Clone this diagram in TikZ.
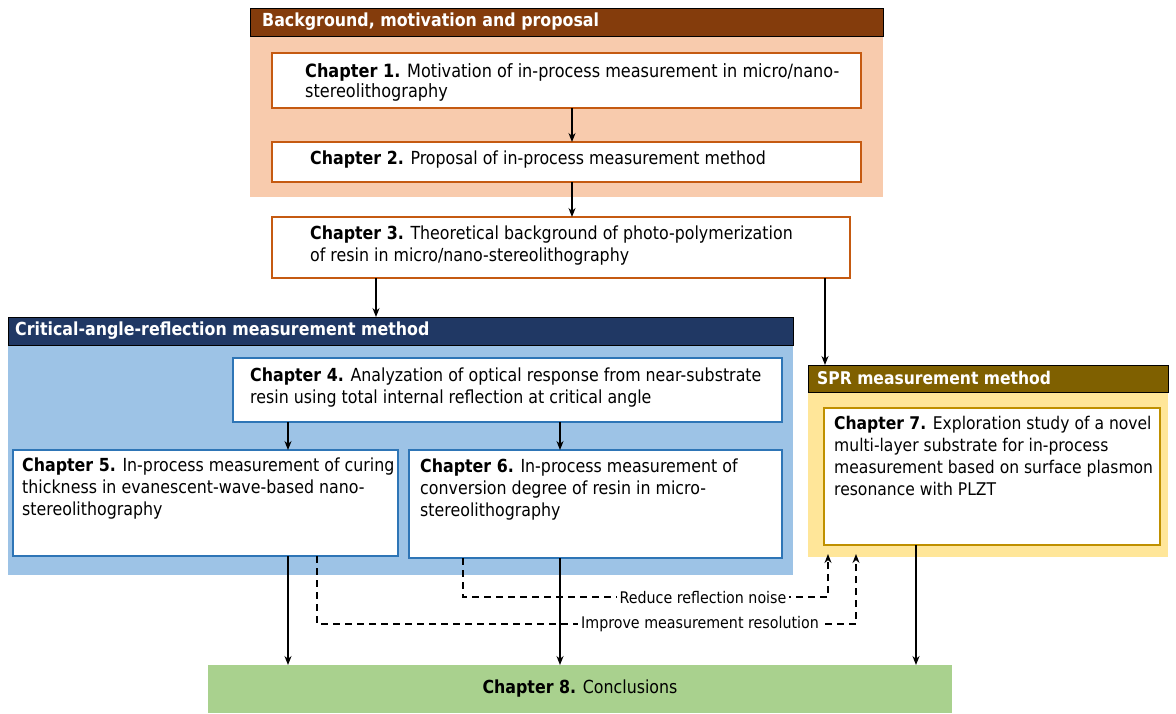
\documentclass[tikz,border=0pt]{standalone}
\usepackage{fontspec}
\setmainfont{DejaVu Sans}[FakeStretch=0.88]
\newfontfamily\wide{DejaVu Sans}[FakeStretch=0.89]
\newfontfamily\lblf{DejaVu Sans}[FakeStretch=0.89]
\usetikzlibrary{arrows.meta}
\definecolor{hbrown}{HTML}{843C0C}
\definecolor{peach}{HTML}{F8CBAD}
\definecolor{orangeb}{HTML}{C55A11}
\definecolor{navy}{HTML}{203864}
\definecolor{lblue}{HTML}{9DC3E6}
\definecolor{blueb}{HTML}{2E75B6}
\definecolor{olive}{HTML}{7F6000}
\definecolor{lyellow}{HTML}{FFE699}
\definecolor{goldb}{HTML}{BF9000}
\definecolor{lgreen}{HTML}{A9D18E}
\tikzset{
  rect/.style={anchor=north west, inner sep=0pt, outer sep=0pt},
  hdr/.style={rect, draw=black, line width=0.8pt},
  panel/.style={rect},
  chbox/.style={rect, fill=white, line width=2pt},
  txt/.style={anchor=north west, inner sep=0pt, align=left, font=\fontsize{18}{22}\selectfont},
  htxt/.style={anchor=west, inner sep=0pt, text=white, font=\bfseries\fontsize{18}{20}\selectfont},
  arr/.style={line width=1.4pt, -{Stealth[length=9pt,width=7pt]}},
  darr/.style={line width=1.4pt, dash pattern=on 7pt off 5pt, -{Stealth[length=9pt,width=7pt]}},
  lbl/.style={fill=white, inner sep=3pt, font=\lblf\fontsize{16}{18}\selectfont}
}
\begin{document}
\begin{tikzpicture}[x=1pt,y=-1pt]
\useasboundingbox (0,0) rectangle (1176,713);
% Background panel
\node[panel, fill=peach, minimum width=633, minimum height=161] (bgpanel) at (250,36) {};
\node[hdr, fill=hbrown, minimum width=633, minimum height=28] (bghdr) at (250,8) {};
\node[htxt] at (262,22) {Background, motivation and proposal};
% Critical-angle panel
\node[panel, fill=lblue, minimum width=785, minimum height=230] (cpanel) at (8,345) {};
\node[hdr, fill=navy, minimum width=785, minimum height=28] (chdr) at (8,317) {};
\node[htxt] at (15,331) {Critical-angle-reflection measurement method};
% SPR panel
\node[panel, fill=lyellow, minimum width=360, minimum height=165] (spanel) at (808,392) {};
\node[hdr, fill=olive, minimum width=360, minimum height=27] (shdr) at (808,365) {};
\node[htxt, font=\wide\bfseries\fontsize{17.5}{20}\selectfont] at (817,378) {SPR measurement method};
% Chapter boxes
\node[chbox, draw=orangeb, minimum width=589, minimum height=55] (c1) at (272,53) {};
\node[txt, font=\fontsize{18.3}{20}\selectfont] at (305,63) {\textbf{Chapter 1.} Motivation of in-process measurement in micro/nano-\\stereolithography};
\node[chbox, draw=orangeb, minimum width=589, minimum height=40] (c2) at (272,142) {};
\node[txt] at (310,151) {\textbf{Chapter 2.} Proposal of in-process measurement method};
\node[chbox, draw=orangeb, minimum width=578, minimum height=61] (c3) at (272,217) {};
\node[txt] at (310,226) {\textbf{Chapter 3.} Theoretical background of photo-polymerization\\of resin in micro/nano-stereolithography};
\node[chbox, draw=blueb, minimum width=549, minimum height=64] (c4) at (233,358) {};
\node[txt] at (250,368) {\textbf{Chapter 4.} Analyzation of optical response from near-substrate\\resin using total internal reflection at critical angle};
\node[chbox, draw=blueb, minimum width=385, minimum height=106] (c5) at (13,450) {};
\node[txt] at (22,458) {\textbf{Chapter 5.} In-process measurement of curing\\thickness in evanescent-wave-based nano-\\stereolithography};
\node[chbox, draw=blueb, minimum width=373, minimum height=108] (c6) at (409,450) {};
\node[txt] at (420,459) {\textbf{Chapter 6.} In-process measurement of\\conversion degree of resin in micro-\\stereolithography};
\node[chbox, draw=goldb, minimum width=336, minimum height=137] (c7) at (824,408) {};
\node[txt, font=\wide\fontsize{17.5}{22}\selectfont] at (834,416) {\textbf{Chapter 7.} Exploration study of a novel\\multi-layer substrate for in-process\\measurement based on surface plasmon\\resonance with PLZT};
\node[rect, fill=lgreen, minimum width=744, minimum height=48] (c8) at (208,665) {};
\node[inner sep=0pt, font=\fontsize{18}{20}\selectfont] at (c8.center) {\textbf{Chapter 8.} Conclusions};
% Solid arrows
\draw[arr] (572,0 |- c1.south) -- (572,0 |- c2.north);
\draw[arr] (572,0 |- c2.south) -- (572,0 |- c3.north);
\draw[arr] (376,0 |- c3.south) -- (376,0 |- chdr.north);
\draw[arr] (825,0 |- c3.south) -- (825,0 |- shdr.north);
\draw[arr] (288,0 |- c4.south) -- (288,0 |- c5.north);
\draw[arr] (560,0 |- c4.south) -- (560,0 |- c6.north);
\draw[arr] (288,0 |- c5.south) -- (288,0 |- c8.north);
\draw[arr] (560,0 |- c6.south) -- (560,0 |- c8.north);
\draw[arr] (916,0 |- c7.south) -- (916,0 |- c8.north);
% Dashed arrows
\draw[darr] (463,0 |- c6.south) -- (463,597) -- (828,597) -- ([yshift=3pt]828,0 |- spanel.south);
\draw[darr] (317,0 |- c5.south) -- (317,624) -- (856,624) -- ([yshift=3pt]856,0 |- spanel.south);
\node[lbl] (l1) at (703,598) {Reduce reflection noise};
\node[lbl] (l2) at (700,624) {Improve measurement resolution};
\end{tikzpicture}
\end{document}
